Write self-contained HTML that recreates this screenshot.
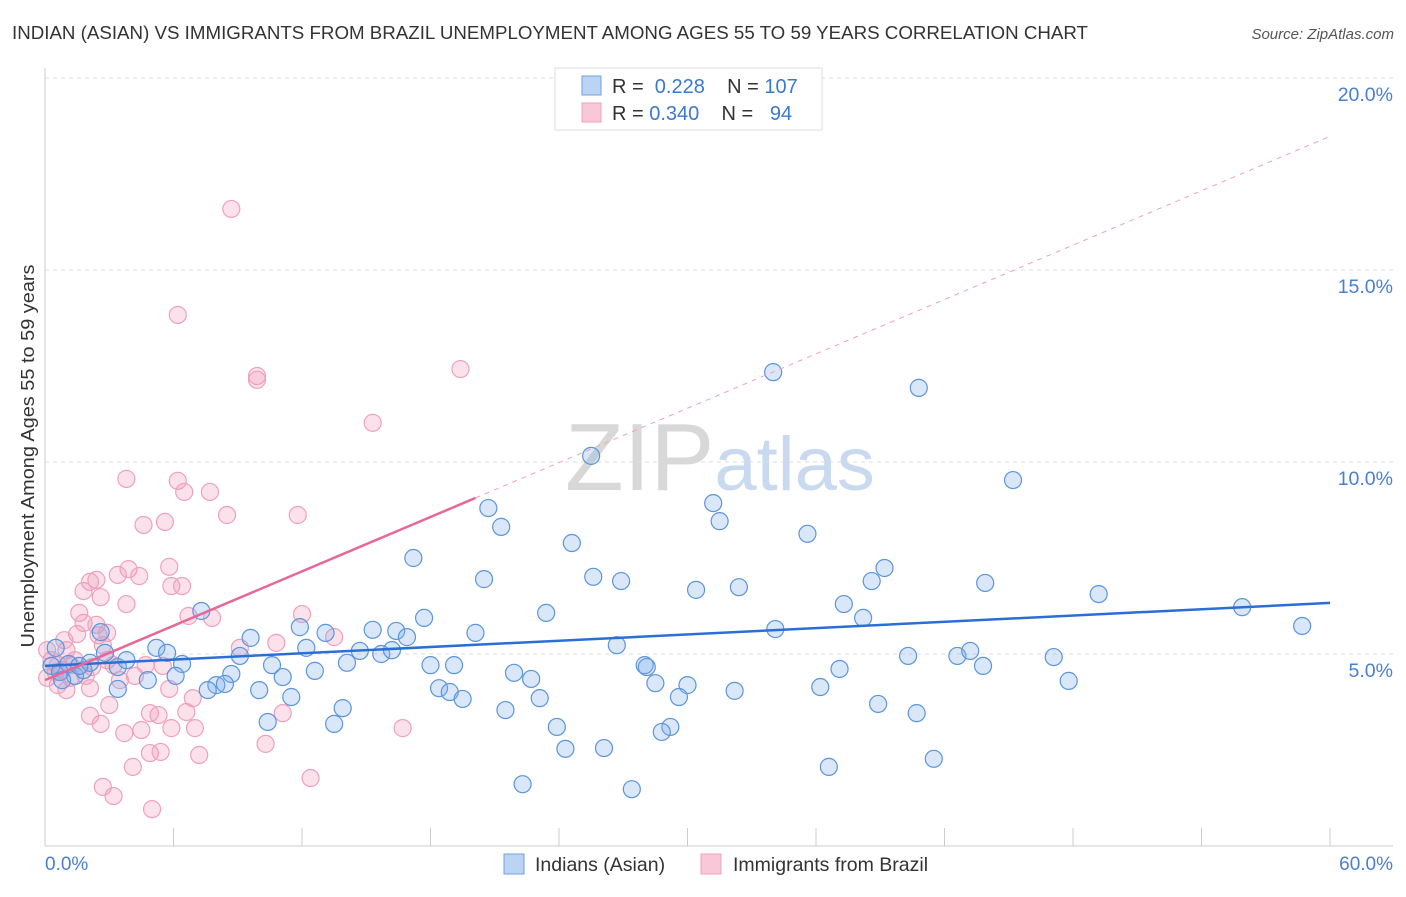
<!DOCTYPE html>
<html><head><meta charset="utf-8"><style>
body{margin:0;background:#fff;font-family:"Liberation Sans",sans-serif;}
svg text{font-family:"Liberation Sans",sans-serif;}
</style></head><body>
<svg id="chart" width="1406" height="892" xmlns="http://www.w3.org/2000/svg">
<text x="12" y="39" font-size="18" textLength="1076" lengthAdjust="spacingAndGlyphs" fill="#333">INDIAN (ASIAN) VS IMMIGRANTS FROM BRAZIL UNEMPLOYMENT AMONG AGES 55 TO 59 YEARS CORRELATION CHART</text>
<text x="1394" y="39" font-size="15" fill="#555" text-anchor="end" font-style="italic">Source: ZipAtlas.com</text>
<text x="720" y="490" font-size="96" text-anchor="middle" fill="#ddd" font-family="Liberation Serif"><tspan fill="#d8d8d8">ZIP</tspan><tspan fill="#c9daf0" font-family="Liberation Sans" font-size="76">atlas</tspan></text>
<g id="grid"></g>
<g id="axes"></g>
<g id="pts"></g>
<g id="trends"></g>
<text transform="translate(34,456) rotate(-90)" font-size="18" textLength="383" lengthAdjust="spacingAndGlyphs" fill="#333" text-anchor="middle">Unemployment Among Ages 55 to 59 years</text>
<g>
<rect x="555" y="68" width="267" height="62" fill="#fff" stroke="#ddd"/>
<rect x="582" y="76" width="19" height="19" fill="#bcd4f4" stroke="#6fa0e0"/>
<rect x="582" y="103" width="19" height="19" fill="#f8c8d8" stroke="#f0a0bc"/>
<text x="612" y="93" font-size="20" fill="#333">R = <tspan fill="#3b78d0">&#160;0.228</tspan>&#160;&#160;&#160;&#160;N = <tspan fill="#3b78d0">107</tspan></text>
<text x="612" y="120" font-size="20" fill="#333">R = <tspan fill="#3b78d0">0.340</tspan>&#160;&#160;&#160;&#160;N = <tspan fill="#3b78d0">&#160;&#160;94</tspan></text>
</g>
<g>
<rect x="504" y="854" width="20" height="20" fill="#bcd4f4" stroke="#6fa0e0"/>
<text x="535" y="871" font-size="19.5" fill="#333">Indians (Asian)</text>
<rect x="701" y="854" width="20" height="20" fill="#f8c8d8" stroke="#f0a0bc"/>
<text x="733" y="871" font-size="19.5" fill="#333">Immigrants from Brazil</text>
</g>
</svg>
<script>
const yTicks=[5,10,15,20];
const yTickLabels=["5.0%","10.0%","15.0%","20.0%"];
const xTickLabels=["0.0%","60.0%"];
const blueX=[34.0,40.8,25.5,45.2,20.7,31.2,31.5,21.3,35.6,24.6,17.2,39.2,20.5,25.6,26.9,38.6,43.9,30.4,32.4,49.2,37.3,55.9,23.4,38.2,7.3,17.7,58.7,2.6,11.9,34.1,15.3,16.4,13.1,16.9,20.1,9.6,26.7,5.2,5.7,12.2,14.7,15.7,16.2,2.8,9.1,40.3,42.6,43.2,47.1,10.6,14.1,18.0,19.1,28.0,28.1,43.8,6.4,37.1,3.4,3.8,12.6,21.9,22.7,11.1,8.7,6.1,4.8,47.8,28.5,30.0,36.2,8.0,8.4,7.6,10.0,18.4,18.9,19.5,23.1,29.6,32.2,11.5,3.4,38.9,13.9,21.5,40.7,10.4,13.5,23.9,29.2,28.8,24.3,26.1,41.5,36.6,22.3,27.4,0.3,0.7,1.1,1.4,1.8,2.1,0.5,0.8,1.6];
const blueY=[12.34,11.93,10.16,9.53,8.80,8.93,8.46,8.31,8.13,7.89,7.50,7.24,6.95,7.01,6.90,6.90,6.85,6.67,6.74,6.56,6.30,6.22,6.07,5.94,6.12,5.94,5.73,5.57,5.70,5.65,5.63,5.60,5.55,5.44,5.55,5.42,5.23,5.16,5.03,5.16,5.08,5.0,5.10,5.03,4.95,4.95,4.95,5.08,4.92,4.71,4.77,4.71,4.71,4.71,4.66,4.69,4.74,4.61,4.66,4.84,4.56,4.51,4.35,4.40,4.48,4.43,4.32,4.30,4.24,4.19,4.14,4.19,4.22,4.06,4.06,4.11,4.01,3.83,3.85,3.88,4.04,3.88,4.09,3.70,3.59,3.54,3.46,3.23,3.18,3.10,3.10,2.97,2.53,2.55,2.27,2.06,1.61,1.48,4.69,4.53,4.74,4.43,4.58,4.77,5.16,4.32,4.69];
const pinkX=[8.7,6.2,9.9,9.9,19.4,15.3,3.8,6.2,6.5,7.7,8.5,11.8,5.6,4.6,5.8,3.9,4.4,3.4,2.4,2.1,5.9,6.4,1.8,2.6,3.8,12.0,1.6,6.7,7.8,1.8,2.4,1.5,2.5,13.5,10.8,9.1,2.7,1.0,2.9,3.2,4.7,5.5,2.2,4.2,3.5,2.1,6.9,5.8,3.0,2.1,2.6,4.9,5.3,6.6,11.1,5.9,7.0,4.5,3.7,16.7,10.3,4.9,5.4,7.2,4.1,12.4,2.7,3.2,5.0,0.1,0.3,0.6,0.8,1.2,1.4,1.9,0.6,1.0,0.5,1.2,0.1,2.9,0.9];
const pinkY=[16.59,13.83,12.24,12.14,12.42,11.02,9.56,9.51,9.22,9.22,8.62,8.62,8.44,8.36,7.27,7.21,7.03,7.06,6.93,6.88,6.77,6.77,6.64,6.48,6.30,6.04,6.07,5.99,5.94,5.81,5.76,5.52,5.49,5.44,5.29,5.16,5.23,5.10,4.84,4.71,4.71,4.69,4.66,4.43,4.32,4.11,3.85,4.09,3.67,3.39,3.18,3.46,3.41,3.49,3.46,3.07,3.07,3.02,2.94,3.07,2.66,2.42,2.45,2.37,2.06,1.77,1.54,1.30,0.96,4.38,4.84,4.19,4.58,4.38,4.84,4.43,4.71,4.06,4.53,4.71,5.10,5.55,5.36];
const blueTrend=[4.69,6.33];
const pinkTrend=[4.32,0.236];
const NS="http://www.w3.org/2000/svg";
const X=v=>45+v/60*1285, Y=v=>846-v*38.4;
function mk(t,a,p){const e=document.createElementNS(NS,t);for(const k in a)e.setAttribute(k,a[k]);p.appendChild(e);return e;}
const grid=document.getElementById('grid'),axes=document.getElementById('axes');
yTicks.forEach((t,i)=>{
 const l=mk('line',{x1:45,x2:1393,y1:Y(t),y2:Y(t),stroke:'#ddd','stroke-dasharray':'4,4'},grid);
 
 
 const tx=mk('text',{x:1393,y:Y(t)+23,'font-size':19.5,fill:'#4a7fd0','text-anchor':'end'},axes);
 tx.textContent=yTickLabels[i];
 
 
});
mk('line',{x1:45,x2:45,y1:68,y2:846,stroke:'#ccc'},axes);
mk('line',{x1:45,x2:1393,y1:846,y2:846,stroke:'#ccc'},axes);
for(let i=0;i<=10;i++){const tk=mk('line',{x1:X(i*6),x2:X(i*6),y1:828,y2:846,stroke:'#ccc'},axes);
 
 }
[[0,'start',45],[60,'end',1393]].forEach((d,i)=>{const tx=mk('text',{x:d[2],y:870,'font-size':19,fill:'#4a7fd0','text-anchor':d[1]},axes);tx.textContent=xTickLabels[i];
 
 });
const pts=document.getElementById('pts');
pinkX.forEach((x,i)=>{const c=mk('circle',{cx:X(x),cy:Y(pinkY[i]),r:8.5,fill:'rgba(240,150,180,0.28)',stroke:'#f0a0bc','stroke-width':1.2},pts);
 
 });
blueX.forEach((x,i)=>{const c=mk('circle',{cx:X(x),cy:Y(blueY[i]),r:8.5,fill:'rgba(130,175,235,0.3)',stroke:'#5b95dc','stroke-width':1.2},pts);
 
 });
const tr=document.getElementById('trends');
const b=mk('line',{x1:X(0),y1:Y(blueTrend[0]),x2:X(60),y2:Y(blueTrend[1]),stroke:'#2a6fd6','stroke-width':2.5},tr);


const pd=mk('line',{x1:X(20.1),y1:Y(pinkTrend[0]+pinkTrend[1]*20.1),x2:X(60),y2:Y(pinkTrend[0]+pinkTrend[1]*60),stroke:'#f0a0bc','stroke-width':1,'stroke-dasharray':'5,5'},tr);


const p=mk('line',{x1:X(0),y1:Y(pinkTrend[0]),x2:X(20.1),y2:Y(pinkTrend[0]+pinkTrend[1]*20.1),stroke:'#e8679a','stroke-width':2.5},tr);


</script>
</body></html>
